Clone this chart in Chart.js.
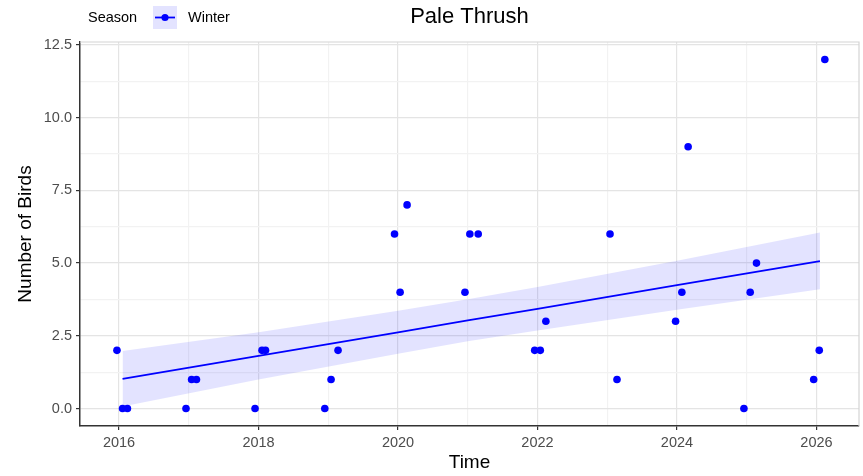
<!DOCTYPE html>
<html>
<head>
<meta charset="utf-8">
<title>Pale Thrush</title>
<script src="https://cdn.jsdelivr.net/npm/chart.js@4.4.1/dist/chart.umd.min.js"></script>
<style>
  html, body { margin: 0; padding: 0; background: #fff; }
  #wrap { width: 863px; height: 476px; }
</style>
</head>
<body>
<div id="wrap"><canvas id="birdChart" width="863" height="476"></canvas></div>
<script>
// Winter counts (decimal year of each survey, birds counted)
const surveyTimes = [
    2015.97, 2016.05, 2016.12,
    2016.96, 2017.04, 2017.11,
    2017.95, 2018.05, 2018.10,
    2018.95, 2019.04, 2019.14,
    2019.95, 2020.03, 2020.13,
    2020.96, 2021.03, 2021.15,
    2021.96, 2022.04, 2022.12,
    2023.04, 2023.14,
    2023.98, 2024.07, 2024.16,
    2024.96, 2025.05, 2025.14,
    2025.96, 2026.04, 2026.12
];
const birdCounts = [
    2, 0, 0,
    0, 1, 1,
    0, 2, 2,
    0, 1, 2,
    6, 4, 7,
    4, 6, 6,
    2, 2, 3,
    6, 1,
    3, 4, 9,
    0, 4, 5,
    1, 2, 12
];

// Trend line and its confidence band
const trendTimes = [2016.05, 2018, 2020, 2021, 2022, 2024, 2026.05];
const trendValues = [1.02, 1.81, 2.62, 3.03, 3.43, 4.24, 5.07];
const bandUpper = [1.98, 2.62, 3.36, 3.76, 4.18, 5.08, 6.05];
const bandLower = [0.07, 1.00, 1.88, 2.31, 2.68, 3.40, 4.10];

const xTicks = [2016, 2018, 2020, 2022, 2024, 2026];
const yTicks = [0, 2.5, 5, 7.5, 10, 12.5];

const chartTitle = 'Pale Thrush';
const legendTitle = 'Season';
const seasonName = 'Winter';

const FONT = "'Liberation Sans', Arial, Helvetica, sans-serif";
const BLUE = '#0000ff';
const BAND = 'rgba(0, 0, 255, 0.11)';

const toXY = (xs, ys) => xs.map((x, i) => ({ x: x, y: ys[i] }));

const isMajorX = v => xTicks.includes(Math.round(v * 100) / 100);
const isMajorY = v => yTicks.includes(Math.round(v * 100) / 100);

// Title, legend and panel border drawn on top of the chart
const decorations = {
    id: 'decorations',
    beforeDatasetsDraw(chart) {
        const { ctx, chartArea } = chart;
        ctx.save();
        ctx.strokeStyle = '#d4d4d4';
        ctx.lineWidth = 1.2;
        ctx.beginPath();
        ctx.moveTo(chartArea.left, chartArea.top);
        ctx.lineTo(chartArea.right, chartArea.top);
        ctx.lineTo(chartArea.right, chartArea.bottom);
        ctx.stroke();
        ctx.restore();
    },
    afterDraw(chart) {
        const { ctx, chartArea } = chart;
        ctx.save();
        ctx.fillStyle = '#000';
        ctx.textBaseline = 'middle';

        // title, centred over the panel
        ctx.font = '22px ' + FONT;
        ctx.textAlign = 'center';
        ctx.fillText(chartTitle, (chartArea.left + chartArea.right) / 2, 17);

        // legend
        ctx.font = '14.5px ' + FONT;
        ctx.textAlign = 'left';
        ctx.fillText(legendTitle, 88, 18);

        ctx.fillStyle = BAND;
        ctx.fillRect(153, 6, 24, 23);
        ctx.strokeStyle = BLUE;
        ctx.lineWidth = 1.8;
        ctx.beginPath();
        ctx.moveTo(155, 17.5);
        ctx.lineTo(175, 17.5);
        ctx.stroke();
        ctx.fillStyle = BLUE;
        ctx.beginPath();
        ctx.arc(165, 17.5, 3.6, 0, Math.PI * 2);
        ctx.fill();

        ctx.fillStyle = '#000';
        ctx.fillText(seasonName, 188, 18);
        ctx.restore();
    }
};

const ctx = document.getElementById('birdChart').getContext('2d');
new Chart(ctx, {
    type: 'scatter',
    data: {
        datasets: [
            {
                label: seasonName,
                data: toXY(surveyTimes, birdCounts),
                backgroundColor: BLUE,
                borderColor: BLUE,
                pointRadius: 3.8,
                pointBorderWidth: 0
            },
            {
                label: 'Trend',
                data: toXY(trendTimes, trendValues),
                showLine: true,
                borderColor: BLUE,
                borderWidth: 1.8,
                pointRadius: 0,
                fill: false
            },
            {
                label: 'Upper',
                data: toXY(trendTimes, bandUpper),
                showLine: true,
                borderWidth: 0,
                borderColor: 'rgba(0,0,0,0)',
                backgroundColor: BAND,
                pointRadius: 0,
                fill: '+1'
            },
            {
                label: 'Lower',
                data: toXY(trendTimes, bandLower),
                showLine: true,
                borderWidth: 0,
                borderColor: 'rgba(0,0,0,0)',
                pointRadius: 0,
                fill: false
            }
        ]
    },
    options: {
        responsive: false,
        animation: false,
        devicePixelRatio: 1,
        layout: {
            padding: { left: 0, right: 3, top: 42, bottom: 0 }
        },
        plugins: {
            legend: { display: false },
            title: { display: false },
            tooltip: { enabled: false }
        },
        scales: {
            x: {
                type: 'linear',
                min: 2015.44,
                max: 2026.61,
                afterFit: scale => { scale.height = 50; },
                border: { display: true, color: '#333333', width: 1.5 },
                grid: {
                    color: c => isMajorX(c.tick.value) ? '#e4e4e4' : '#f2f2f2',
                    tickColor: c => isMajorX(c.tick.value) ? '#333333' : 'rgba(0,0,0,0)',
                    lineWidth: 1.2,
                    tickLength: 4
                },
                ticks: {
                    stepSize: 1,
                    includeBounds: false,
                    autoSkip: false,
                    maxRotation: 0,
                    padding: 4,
                    color: '#4d4d4d',
                    font: { family: FONT, size: 14.5 },
                    callback: v => isMajorX(v) ? String(Math.round(v)) : ''
                },
                title: {
                    display: true,
                    text: 'Time',
                    color: '#000',
                    font: { family: FONT, size: 19 },
                    padding: { top: 0, bottom: 2 }
                }
            },
            y: {
                type: 'linear',
                min: -0.6,
                max: 12.6,
                afterFit: scale => { scale.width = 80; },
                border: { display: true, color: '#333333', width: 1.5 },
                grid: {
                    color: c => isMajorY(c.tick.value) ? '#e4e4e4' : '#f2f2f2',
                    tickColor: c => isMajorY(c.tick.value) ? '#333333' : 'rgba(0,0,0,0)',
                    lineWidth: 1.2,
                    tickLength: 4
                },
                ticks: {
                    stepSize: 1.25,
                    includeBounds: false,
                    autoSkip: false,
                    padding: 4,
                    color: '#4d4d4d',
                    font: { family: FONT, size: 14.5 },
                    callback: v => isMajorY(v) ? v.toFixed(1) : ''
                },
                title: {
                    display: true,
                    text: 'Number of Birds',
                    color: '#000',
                    font: { family: FONT, size: 19 },
                    padding: { top: 14, bottom: 0 }
                }
            }
        }
    },
    plugins: [decorations]
});
</script>
</body>
</html>
